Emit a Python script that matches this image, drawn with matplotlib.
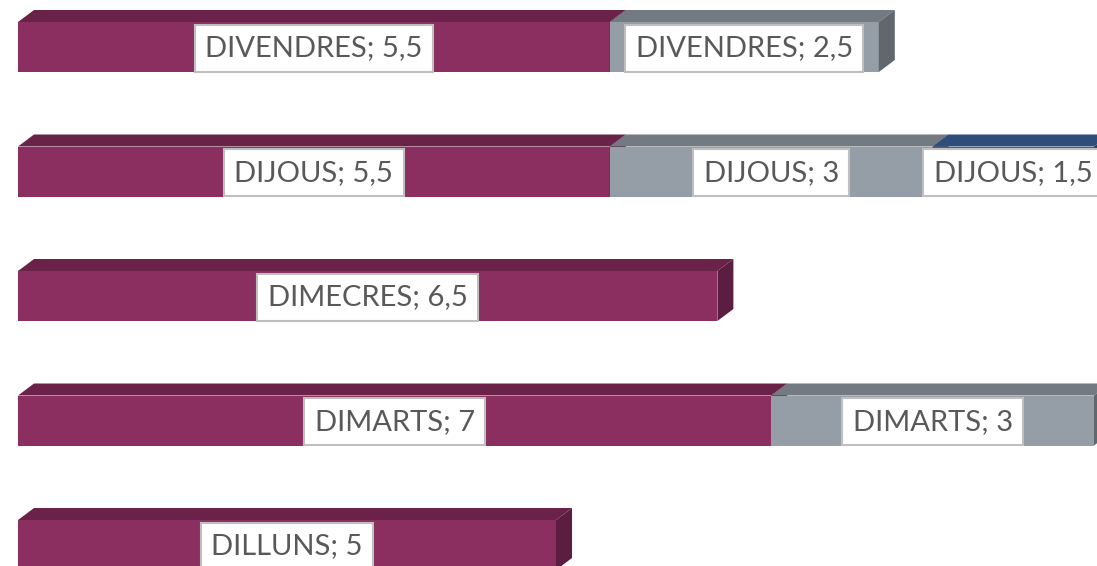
import matplotlib
matplotlib.use('Agg')
import matplotlib.pyplot as plt
from matplotlib.patches import Polygon

# data (bottom to top)
days = ['DILLUNS', 'DIMARTS', 'DIMECRES', 'DIJOUS', 'DIVENDRES']
series1 = [5, 7, 6.5, 5.5, 5.5]
series2 = [0, 3, 0, 3, 2.5]
series3 = [0, 0, 0, 1.5, 0]

front = ['#8B2E60', '#959EA6', '#3A5C92']
top = ['#6B2249', '#737A81', '#2F4D7A']
side = ['#5C1E40', '#60676D', '#263F66']

fig = plt.figure(figsize=(10.97, 5.66), dpi=100)
ax = fig.add_axes([0, 0, 1, 1])
ax.set_xlim(-18 / 107.6, 1079 / 107.6)
ax.set_ylim(-21 / 124.5, 545 / 124.5)
ax.axis('off')

h = 50 / 124.5
dx = 16 / 107.6
dy = 12 / 124.5


def fmt(v):
    s = f'{v:g}'
    return s.replace('.', ',')


for i, day in enumerate(days):
    left = 0
    for k, vals in enumerate([series1, series2, series3]):
        v = vals[i]
        if v == 0:
            continue
        z = 2 + k * 3
        ax.barh(i, v, left=left, height=h, color=front[k], edgecolor='none', zorder=z)
        b, t = i - h / 2, i + h / 2
        r = left + v
        # top and side faces for the 3D look
        ax.add_patch(Polygon([(left, t), (r, t), (r + dx, t + dy), (left + dx, t + dy)],
                             closed=True, facecolor=top[k], edgecolor='none', zorder=z))
        ax.add_patch(Polygon([(r, b), (r, t), (r + dx, t + dy), (r + dx, b + dy)],
                             closed=True, facecolor=side[k], edgecolor='none', zorder=z))
        ax.text(left + v / 2, i - 0.01, f'{day}; {fmt(v)}', ha='center', va='center',
                fontsize=21, family='Lato', color='#595959', zorder=20,
                bbox=dict(boxstyle='square,pad=0.36', facecolor='white',
                          edgecolor='#BFBFBF', linewidth=1.5))
        left = r

fig.savefig('out.png', dpi=100)
